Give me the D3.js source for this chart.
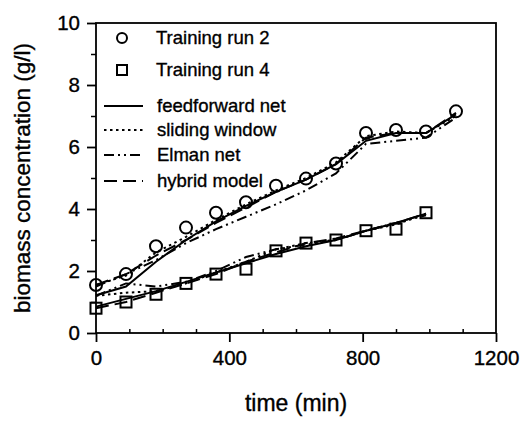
<!DOCTYPE html>
<html>
<head>
<meta charset="utf-8">
<script src="https://cdn.jsdelivr.net/npm/d3@7"></script>
<style>
  body { margin: 0; background: #fff; }
  text { font-family: "Liberation Sans", Arial, sans-serif; fill: #000; stroke: #000; stroke-width: 0.35px; }
</style>
</head>
<body>
<div id="chart"></div>
<script>
// sample times (min)
const times2 = [0, 90, 180, 270, 360, 450, 540, 630, 720, 810, 900, 990, 1080];
const times4 = [0, 90, 180, 270, 360, 450, 540, 630, 720, 810, 900, 990];

// measured biomass (g/l)
const run2 = [1.55, 1.9, 2.8, 3.4, 3.88, 4.22, 4.75, 4.98, 5.47, 6.45, 6.55, 6.5, 7.15];
const run4 = [0.8, 1.0, 1.25, 1.6, 1.9, 2.06, 2.65, 2.9, 3.0, 3.3, 3.35, 3.88];

// model predictions, run 2
const ff2     = [1.22, 1.5, 2.3, 3.0, 3.6, 4.1, 4.55, 4.95, 5.45, 6.2, 6.45, 6.45, 7.05];
const sw2     = [1.55, 1.85, 2.6, 3.1, 3.65, 4.15, 4.6, 5.0, 5.5, 6.35, 6.5, 6.45, 7.0];
const elman2  = [1.5, 1.9, 2.35, 2.9, 3.35, 3.75, 4.15, 4.6, 5.15, 6.1, 6.2, 6.3, 6.95];
const hybrid2 = [1.55, 1.9, 2.5, 3.0, 3.55, 4.05, 4.55, 4.95, 5.45, 6.3, 6.45, 6.45, 7.1];

// model predictions, run 4
const ff4     = [0.85, 1.1, 1.35, 1.65, 1.95, 2.25, 2.55, 2.8, 3.0, 3.3, 3.55, 3.85];
const sw4     = [1.2, 1.3, 1.35, 1.6, 1.95, 2.3, 2.7, 2.9, 3.0, 3.3, 3.5, 3.85];
const elman4  = [1.2, 1.6, 1.5, 1.65, 2.0, 2.45, 2.7, 2.85, 3.0, 3.3, 3.55, 3.8];
const hybrid4 = [0.8, 1.0, 1.3, 1.6, 1.9, 2.3, 2.6, 2.9, 3.05, 3.3, 3.55, 3.85];

const xTicks = [0, 400, 800, 1200];
const yTicks = [0, 2, 4, 6, 8, 10];

const legendMarkers = ["Training run 2", "Training run 4"];
const legendLines = ["feedforward net", "sliding window", "Elman net", "hybrid model"];
const dashes = [null, "2.5,3.5", "10,4,2,4,2,4", "13,6"];

let width = 524, height = 430;
let margin = {top: 23, right: 28, bottom: 97, left: 96};

let svg = d3.select("#chart")
    .append("svg")
        .attr("width", width)
        .attr("height", height);

let x = d3.scaleLinear()
    .domain([0, 1200])
    .range([margin.left, width - margin.right]);

let y = d3.scaleLinear()
    .domain([0, 10])
    .range([height - margin.bottom, margin.top]);

// frame
svg.append("rect")
    .attr("x", x(0))
    .attr("y", y(10))
    .attr("width", x(1200) - x(0))
    .attr("height", y(0) - y(10))
    .attr("fill", "none")
    .attr("stroke", "black")
    .attr("stroke-width", 1.8);

// x axis: major ticks down, minor ticks inside
let xAxis = svg.append("g")
    .attr("transform", `translate(0,${y(0)})`)
    .call(d3.axisBottom(x).tickValues(xTicks).tickSize(9).tickPadding(8).tickFormat(d3.format("d")));
xAxis.select(".domain").remove();
xAxis.selectAll("line").attr("stroke-width", 1.8);
xAxis.selectAll("text").attr("font-size", 20.5).attr("fill", "#000");

svg.append("g")
    .attr("transform", `translate(0,${y(0)})`)
    .call(d3.axisTop(x).tickValues(d3.range(100, 1200, 100).filter(d => d % 400 !== 0)).tickSize(4).tickFormat(""))
    .call(g => g.select(".domain").remove())
    .selectAll("line").attr("stroke-width", 1.5);

// y axis
let yAxis = svg.append("g")
    .attr("transform", `translate(${x(0)},0)`)
    .call(d3.axisLeft(y).tickValues(yTicks).tickSize(9).tickPadding(7));
yAxis.select(".domain").remove();
yAxis.selectAll("line").attr("stroke-width", 1.8);
yAxis.selectAll("text").attr("font-size", 20.5).attr("fill", "#000");

svg.append("g")
    .attr("transform", `translate(${x(0)},0)`)
    .call(d3.axisLeft(y).tickValues([1, 3, 5, 7, 9]).tickSize(5).tickFormat(""))
    .call(g => g.select(".domain").remove())
    .selectAll("line").attr("stroke-width", 1.5);

// axis titles
svg.append("text")
    .attr("x", (x(0) + x(1200)) / 2)
    .attr("y", 411)
    .attr("text-anchor", "middle")
    .attr("font-size", 23)
    .text("time (min)");

svg.append("text")
    .attr("transform", `translate(30,${(y(0) + y(10)) / 2}) rotate(-90)`)
    .attr("text-anchor", "middle")
    .attr("font-size", 22.5)
    .text("biomass concentration (g/l)");

// model lines
let line = d3.line()
    .x(d => x(d[0]))
    .y(d => y(d[1]));

let models = [
    {t: times2, v: ff2, k: 0}, {t: times2, v: sw2, k: 1},
    {t: times2, v: elman2, k: 2}, {t: times2, v: hybrid2, k: 3},
    {t: times4, v: ff4, k: 0}, {t: times4, v: sw4, k: 1},
    {t: times4, v: elman4, k: 2}, {t: times4, v: hybrid4, k: 3}
];

svg.append("g")
    .selectAll("path")
    .data(models)
    .enter()
    .append("path")
        .attr("fill", "none")
        .attr("stroke", "black")
        .attr("stroke-width", 2)
        .attr("stroke-dasharray", d => dashes[d.k])
        .attr("d", d => line(d.t.map((t, i) => [t, d.v[i]])));

// measured points
svg.append("g")
    .selectAll("circle")
    .data(times2.map((t, i) => [t, run2[i]]))
    .enter()
    .append("circle")
        .attr("cx", d => x(d[0]))
        .attr("cy", d => y(d[1]))
        .attr("r", 6)
        .attr("fill", "none")
        .attr("stroke", "black")
        .attr("stroke-width", 2);

svg.append("g")
    .selectAll("rect")
    .data(times4.map((t, i) => [t, run4[i]]))
    .enter()
    .append("rect")
        .attr("x", d => x(d[0]) - 5.5)
        .attr("y", d => y(d[1]) - 5.5)
        .attr("width", 11)
        .attr("height", 11)
        .attr("fill", "none")
        .attr("stroke", "black")
        .attr("stroke-width", 2);

// legend
let legend = svg.append("g");
let markerRows = [38, 70];
legend.append("circle")
    .attr("cx", 122).attr("cy", markerRows[0]).attr("r", 5)
    .attr("fill", "none").attr("stroke", "black").attr("stroke-width", 2);
legend.append("rect")
    .attr("x", 117).attr("y", markerRows[1] - 5).attr("width", 10).attr("height", 10)
    .attr("fill", "none").attr("stroke", "black").attr("stroke-width", 2);
legendMarkers.forEach((name, i) => {
    legend.append("text")
        .attr("x", 156).attr("y", markerRows[i]).attr("dy", "0.35em")
        .attr("font-size", 18.5)
        .text(name);
});

let lineRows = [106, 130, 155, 181];
legendLines.forEach((name, i) => {
    legend.append("line")
        .attr("x1", 104).attr("x2", 143)
        .attr("y1", lineRows[i]).attr("y2", lineRows[i])
        .attr("stroke", "black").attr("stroke-width", 2)
        .attr("stroke-dasharray", dashes[i]);
    legend.append("text")
        .attr("x", 157).attr("y", lineRows[i]).attr("dy", "0.35em")
        .attr("font-size", 18.5)
        .text(name);
});
</script>
</body>
</html>
